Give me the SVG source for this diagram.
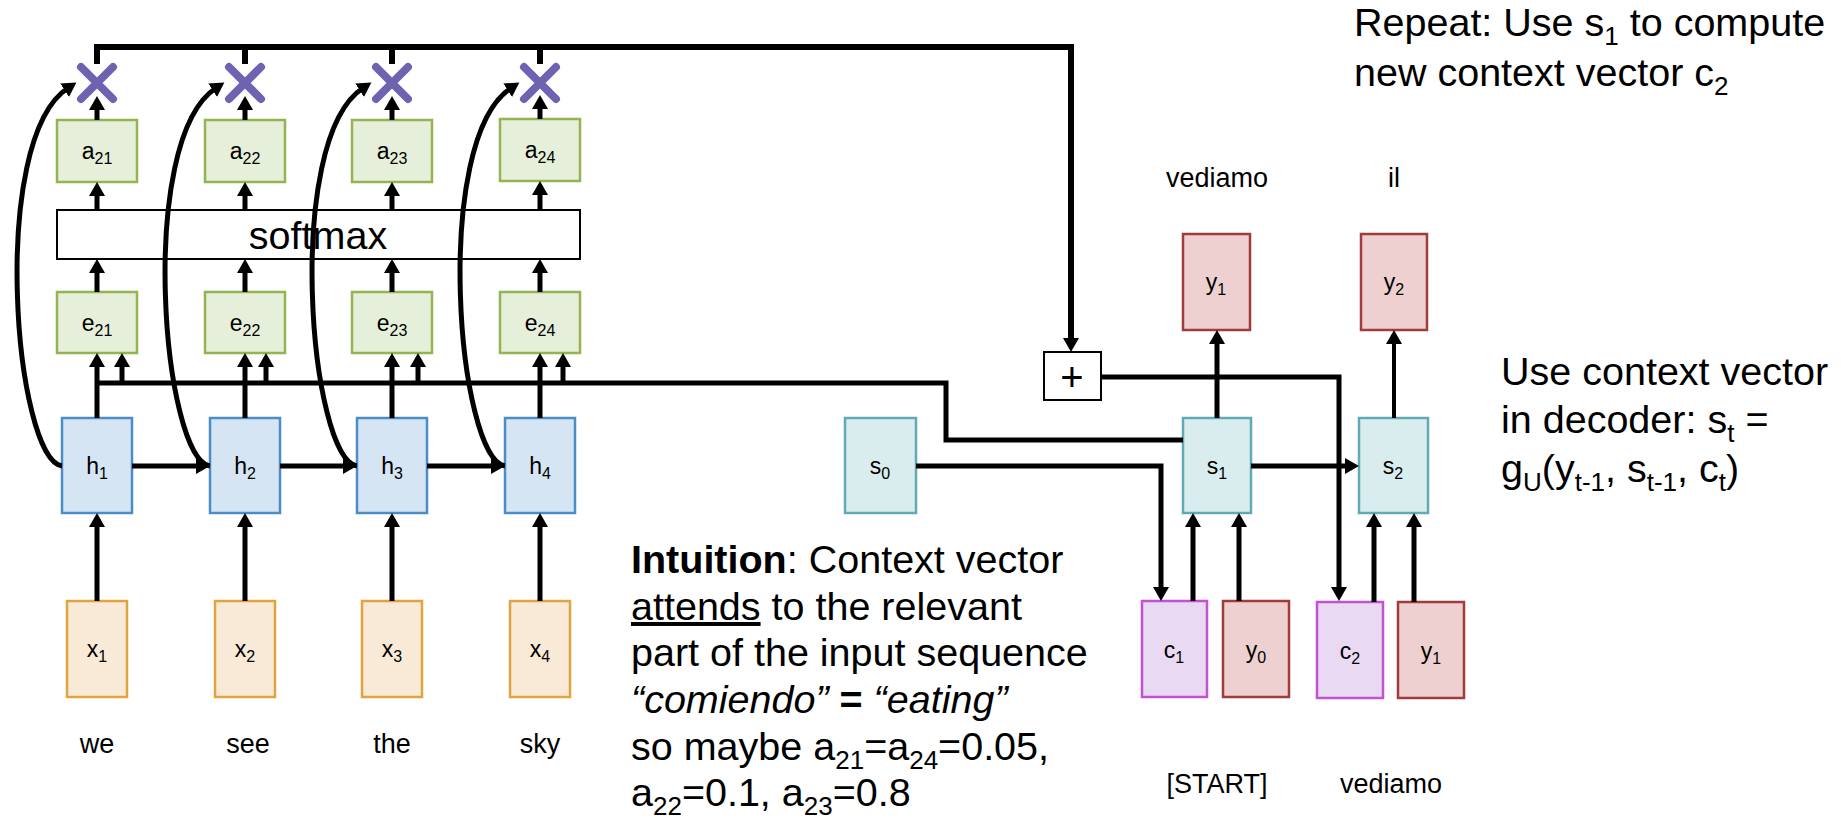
<svg xmlns="http://www.w3.org/2000/svg" width="1841" height="825" viewBox="0 0 1841 825">
<style>
text{font-family:"Liberation Sans",Arial,sans-serif;fill:#000}
.lbl{font-size:23px;text-anchor:middle}
.sub{font-size:16px}
.word{font-size:27px;text-anchor:middle}
.big{font-size:39.5px}
.bsub{font-size:26px}
.grn{fill:#e6efd9;stroke:#93b450;stroke-width:2.5}
.blu{fill:#d6e5f3;stroke:#4c8dc8;stroke-width:2.5}
.org{fill:#f8ead6;stroke:#dfa43f;stroke-width:2.5}
.tea{fill:#daedee;stroke:#5faab5;stroke-width:2.5}
.red{fill:#eed0d0;stroke:#a23b3b;stroke-width:2.5}
.pur{fill:#e9d9f2;stroke:#c351d3;stroke-width:2.5}
.wht{fill:#fff;stroke:#000;stroke-width:2}
.mul{stroke:#6e63b0;stroke-width:8;stroke-linecap:round;fill:none}
.c{fill:none;stroke:#000;stroke-width:5}
.a{marker-end:url(#ah)}
</style>
<defs>
<marker id="ah" markerUnits="userSpaceOnUse" markerWidth="17" markerHeight="17" refX="4" refY="8" orient="auto" viewBox="0 0 17 16">
<path d="M0,0 L14,8 L0,16 z" fill="#000"/>
</marker>
</defs>

<g id="x1"><rect class="org" x="67" y="601" width="60" height="96"/><text class="lbl" x="97" y="657">x<tspan class="sub" dy="5">1</tspan></text></g>
<g id="x2"><rect class="org" x="215" y="601" width="60" height="96"/><text class="lbl" x="245" y="657">x<tspan class="sub" dy="5">2</tspan></text></g>
<g id="x3"><rect class="org" x="362" y="601" width="60" height="96"/><text class="lbl" x="392" y="657">x<tspan class="sub" dy="5">3</tspan></text></g>
<g id="x4"><rect class="org" x="510" y="601" width="60" height="96"/><text class="lbl" x="540" y="657">x<tspan class="sub" dy="5">4</tspan></text></g>

<g id="h1"><rect class="blu" x="62" y="418" width="70" height="95"/><text class="lbl" x="97" y="474">h<tspan class="sub" dy="5">1</tspan></text></g>
<g id="h2"><rect class="blu" x="210" y="418" width="70" height="95"/><text class="lbl" x="245" y="474">h<tspan class="sub" dy="5">2</tspan></text></g>
<g id="h3"><rect class="blu" x="357" y="418" width="70" height="95"/><text class="lbl" x="392" y="474">h<tspan class="sub" dy="5">3</tspan></text></g>
<g id="h4"><rect class="blu" x="505" y="418" width="70" height="95"/><text class="lbl" x="540" y="474">h<tspan class="sub" dy="5">4</tspan></text></g>

<g id="e21"><rect class="grn" x="57" y="292" width="80" height="61"/><text class="lbl" x="97" y="331">e<tspan class="sub" dy="5">21</tspan></text></g>
<g id="e22"><rect class="grn" x="205" y="292" width="80" height="61"/><text class="lbl" x="245" y="331">e<tspan class="sub" dy="5">22</tspan></text></g>
<g id="e23"><rect class="grn" x="352" y="292" width="80" height="61"/><text class="lbl" x="392" y="331">e<tspan class="sub" dy="5">23</tspan></text></g>
<g id="e24"><rect class="grn" x="500" y="292" width="80" height="61"/><text class="lbl" x="540" y="331">e<tspan class="sub" dy="5">24</tspan></text></g>

<g id="softmax"><rect class="wht" x="57" y="210" width="523" height="49"/><text class="big" x="318" y="249" text-anchor="middle">softmax</text></g>

<g id="a21"><rect class="grn" x="57" y="120" width="80" height="62"/><text class="lbl" x="97" y="159">a<tspan class="sub" dy="5">21</tspan></text></g>
<g id="a22"><rect class="grn" x="205" y="120" width="80" height="62"/><text class="lbl" x="245" y="159">a<tspan class="sub" dy="5">22</tspan></text></g>
<g id="a23"><rect class="grn" x="352" y="120" width="80" height="62"/><text class="lbl" x="392" y="159">a<tspan class="sub" dy="5">23</tspan></text></g>
<g id="a24"><rect class="grn" x="500" y="119" width="80" height="62"/><text class="lbl" x="540" y="158">a<tspan class="sub" dy="5">24</tspan></text></g>

<g id="mul1"><path class="mul" d="M81,67 L113,99 M113,67 L81,99"/></g>
<g id="mul2"><path class="mul" d="M229,67 L261,99 M261,67 L229,99"/></g>
<g id="mul3"><path class="mul" d="M376,67 L408,99 M408,67 L376,99"/></g>
<g id="mul4"><path class="mul" d="M524,67 L556,99 M556,67 L524,99"/></g>

<g id="words">
<text class="word" x="97" y="753">we</text>
<text class="word" x="248" y="753">see</text>
<text class="word" x="392" y="753">the</text>
<text class="word" x="540" y="753">sky</text>
</g>

<g id="plus"><rect class="wht" x="1044" y="352" width="57" height="48"/><text x="1072" y="391" font-size="40" text-anchor="middle">+</text></g>
<g id="s0"><rect class="tea" x="845" y="418" width="71" height="95"/><text class="lbl" x="880" y="474">s<tspan class="sub" dy="5">0</tspan></text></g>
<g id="s1"><rect class="tea" x="1183" y="418" width="68" height="95"/><text class="lbl" x="1217" y="474">s<tspan class="sub" dy="5">1</tspan></text></g>
<g id="s2"><rect class="tea" x="1359" y="418" width="69" height="95"/><text class="lbl" x="1393" y="474">s<tspan class="sub" dy="5">2</tspan></text></g>
<g id="y1top"><rect class="red" x="1183" y="234" width="67" height="96"/><text class="lbl" x="1216" y="290">y<tspan class="sub" dy="5">1</tspan></text></g>
<g id="y2top"><rect class="red" x="1361" y="234" width="66" height="96"/><text class="lbl" x="1394" y="290">y<tspan class="sub" dy="5">2</tspan></text></g>
<g id="c1"><rect class="pur" x="1142" y="601" width="65" height="96"/><text class="lbl" x="1174" y="658">c<tspan class="sub" dy="5">1</tspan></text></g>
<g id="y0"><rect class="red" x="1223" y="601" width="66" height="96"/><text class="lbl" x="1256" y="658">y<tspan class="sub" dy="5">0</tspan></text></g>
<g id="c2"><rect class="pur" x="1317" y="602" width="66" height="96"/><text class="lbl" x="1350" y="659">c<tspan class="sub" dy="5">2</tspan></text></g>
<g id="y1bot"><rect class="red" x="1398" y="602" width="66" height="96"/><text class="lbl" x="1431" y="659">y<tspan class="sub" dy="5">1</tspan></text></g>

<g id="decoder-words">
<text class="word" x="1217" y="187">vediamo</text>
<text class="word" x="1394" y="187">il</text>
<text class="word" x="1217" y="793">[START]</text>
<text class="word" x="1391" y="793">vediamo</text>
</g>

<g id="note-repeat">
<text class="big" x="1354" y="36">Repeat: Use s<tspan class="bsub" dy="9">1</tspan><tspan dy="-9"> to compute</tspan></text>
<text class="big" x="1354" y="86">new context vector c<tspan class="bsub" dy="9">2</tspan></text>
</g>
<g id="note-decoder">
<text class="big" x="1501" y="385">Use context vector</text>
<text class="big" x="1501" y="433">in decoder: s<tspan class="bsub" dy="9">t</tspan><tspan dy="-9"> =</tspan></text>
<text class="big" x="1501" y="482">g<tspan class="bsub" dy="9">U</tspan><tspan dy="-9">(y</tspan><tspan class="bsub" dy="9">t-1</tspan><tspan dy="-9">, s</tspan><tspan class="bsub" dy="9">t-1</tspan><tspan dy="-9">, c</tspan><tspan class="bsub" dy="9">t</tspan><tspan dy="-9">)</tspan></text>
</g>
<g id="note-intuition">
<text class="big" x="631" y="573"><tspan font-weight="bold">Intuition</tspan>: Context vector</text>
<text class="big" x="631" y="620"><tspan text-decoration="underline">attends</tspan> to the relevant</text>
<text class="big" x="631" y="666">part of the input sequence</text>
<text class="big" x="631" y="713"><tspan font-style="italic">“comiendo”</tspan><tspan font-weight="bold"> = </tspan><tspan font-style="italic">“eating”</tspan></text>
<text class="big" x="631" y="760">so maybe a<tspan class="bsub" dy="9">21</tspan><tspan dy="-9">=a</tspan><tspan class="bsub" dy="9">24</tspan><tspan dy="-9">=0.05,</tspan></text>
<text class="big" x="631" y="806">a<tspan class="bsub" dy="9">22</tspan><tspan dy="-9">=0.1, a</tspan><tspan class="bsub" dy="9">23</tspan><tspan dy="-9">=0.8</tspan></text>
</g>

<g id="connectors">
<path class="c a" style="stroke-width:6" d="M97,64 V47 H1071 V342"/>
<path class="c" style="stroke-width:6" d="M245,64 V47 M392,64 V47 M540,64 V47"/>
<path class="c a" d="M97,120 V106"/>
<path class="c a" d="M245,120 V106"/>
<path class="c a" d="M392,120 V106"/>
<path class="c a" d="M540,119 V105"/>
<path class="c a" d="M97,210 V192"/>
<path class="c a" d="M245,210 V192"/>
<path class="c a" d="M392,210 V192"/>
<path class="c a" d="M540,210 V191"/>
<path class="c a" d="M97,292 V269"/>
<path class="c a" d="M245,292 V269"/>
<path class="c a" d="M392,292 V269"/>
<path class="c a" d="M540,292 V269"/>
<path class="c a" d="M97,418 V363"/>
<path class="c a" d="M245,418 V363"/>
<path class="c a" d="M392,418 V363"/>
<path class="c a" d="M540,418 V363"/>
<path class="c" d="M1183,440 H946 V383 H97"/>
<path class="c a" d="M122,383 V363"/>
<path class="c a" d="M266,383 V363"/>
<path class="c a" d="M418,383 V363"/>
<path class="c a" d="M563,383 V363"/>
<path class="c a" d="M97,601 V523"/>
<path class="c a" d="M245,601 V523"/>
<path class="c a" d="M392,601 V523"/>
<path class="c a" d="M540,601 V523"/>
<path class="c a" d="M132,466 H200"/>
<path class="c a" d="M280,466 H347"/>
<path class="c a" d="M427,466 H495"/>
<path class="c a" d="M62,466 C15,460 -12,140 68,88"/>
<path class="c a" d="M210,466 C163,460 136,140 216,88"/>
<path class="c a" d="M357,466 C310,460 283,140 363,88"/>
<path class="c a" d="M505,466 C458,460 431,140 511,88"/>
<path class="c a" d="M1101,377 H1339 V591"/>
<path class="c a" d="M916,466 H1161 V591"/>
<path class="c a" d="M1217,418 V340"/>
<path class="c a" style="stroke-width:4" d="M1394,418 V340"/>
<path class="c a" d="M1251,466 H1349"/>
<path class="c a" d="M1193,601 V523"/>
<path class="c a" d="M1239,601 V523"/>
<path class="c a" d="M1374,602 V523"/>
<path class="c a" d="M1414,602 V523"/>
</g>
</svg>
